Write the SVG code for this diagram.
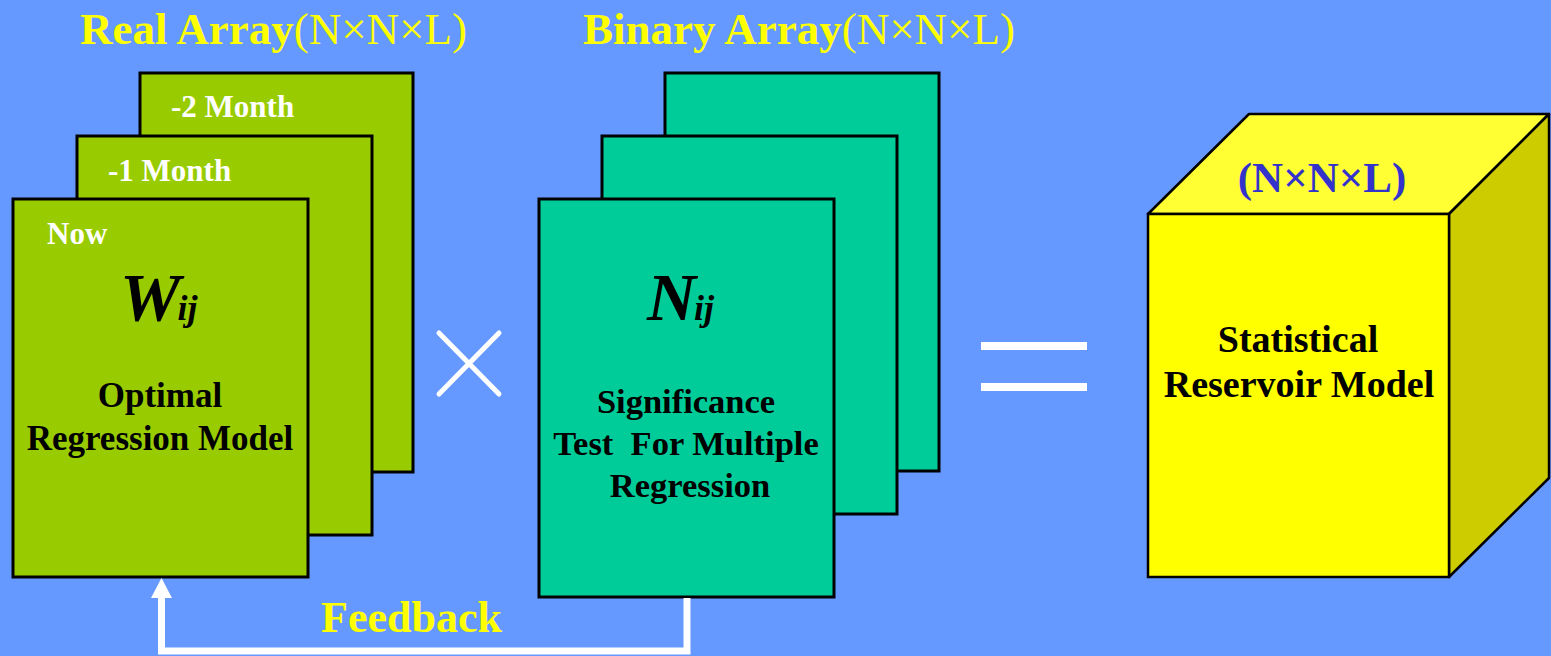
<svg xmlns="http://www.w3.org/2000/svg" width="1551" height="656" viewBox="0 0 1551 656">
<style>
.t{font-family:"Liberation Serif","Times New Roman",serif;font-weight:bold}
.title{font-size:45px;fill:#FFFF00}
.reg{font-weight:normal}
.wh{font-size:31px;fill:#FFFFFF}
.blk{fill:#000000;text-anchor:middle}
.g{fill:#99CC00;stroke:#000;stroke-width:3}
.tl{fill:#00CC99;stroke:#000;stroke-width:3}
.big{font-size:68px;font-style:italic}
.sub{font-size:36px}
</style>
<rect width="1551" height="656" fill="#6699FF"/>
<g id="title-real"><text class="t title" x="80" y="44">Real Array<tspan class="reg">(N×N×L)</tspan></text></g>
<g id="title-binary"><text class="t title" x="583" y="44">Binary Array<tspan class="reg">(N×N×L)</tspan></text></g>
<g id="real-array">
<rect class="g" x="140" y="73" width="273" height="399"/>
<text class="t wh" x="171" y="117">-2 Month</text>
<rect class="g" x="77" y="136" width="295" height="399"/>
<text class="t wh" x="108" y="181">-1 Month</text>
<rect class="g" x="13" y="199" width="295" height="378"/>
<text class="t wh" x="47" y="244">Now</text>
<text class="t big" x="120" y="320">W<tspan class="sub" dx="-3">ij</tspan></text>
<text class="t blk" x="160" y="407" font-size="35">Optimal</text>
<text class="t blk" x="160" y="450" font-size="35">Regression Model</text>
</g>
<g id="times">
<path d="M439 333 L499 394 M499 333 L439 394" stroke="#fff" stroke-width="5" stroke-linecap="round"/>
</g>
<g id="binary-array">
<rect class="tl" x="665" y="73" width="274" height="398"/>
<rect class="tl" x="602" y="136" width="295" height="378"/>
<rect class="tl" x="539" y="199" width="295" height="398"/>
<text class="t big" x="647" y="320">N<tspan class="sub" dx="-2">ij</tspan></text>
<text class="t blk" x="686" y="413" font-size="34.5">Significance</text>
<text class="t blk" x="686" y="455" font-size="34.5" xml:space="preserve">Test  For Multiple</text>
<text class="t blk" x="690" y="497" font-size="34.5">Regression</text>
</g>
<g id="equals">
<rect x="981" y="342" width="106" height="8" fill="#fff"/>
<rect x="981" y="383" width="106" height="8" fill="#fff"/>
</g>
<g id="reservoir-cube">
<polygon points="1148,214 1249,114 1549,114 1449,214" fill="#FFFF33" stroke="#000" stroke-width="2.5" stroke-linejoin="round"/>
<polygon points="1449,214 1549,114 1549,478 1449,577" fill="#CCCC00" stroke="#000" stroke-width="2.5" stroke-linejoin="round"/>
<rect x="1148" y="214" width="301" height="363" fill="#FFFF00" stroke="#000" stroke-width="2.5"/>
<text class="t" x="1322" y="192" font-size="43" fill="#3333CC" text-anchor="middle">(N×N×L)</text>
<text class="t blk" x="1298" y="352" font-size="38">Statistical</text>
<text class="t blk" x="1299" y="397" font-size="38">Reservoir Model</text>
</g>
<g id="connectors">
<polyline points="687,598 687,651 161.5,651 161.5,597" fill="none" stroke="#fff" stroke-width="7"/>
<polygon points="151,598 172,598 161.5,578" fill="#fff"/>
<text class="t" x="321" y="632" font-size="44" fill="#FFFF00">Feedback</text>
</g>
</svg>
